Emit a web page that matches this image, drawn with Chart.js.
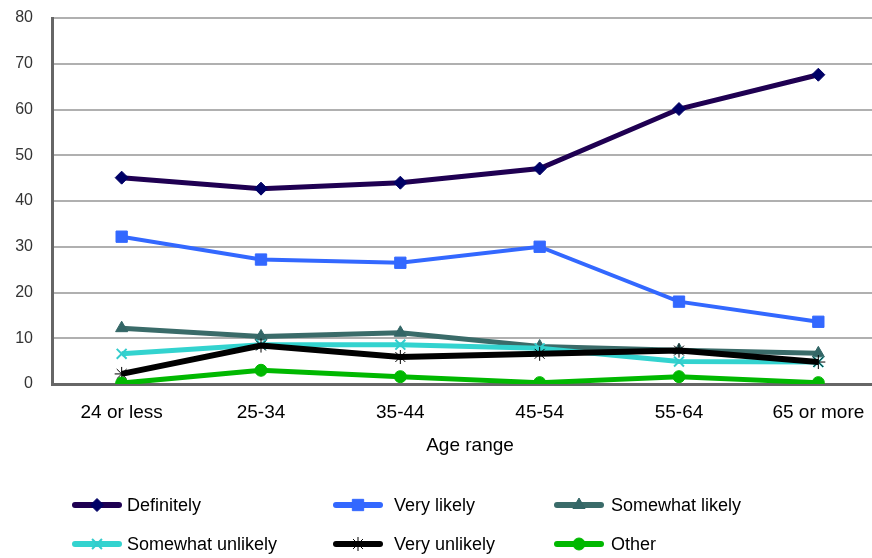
<!DOCTYPE html>
<html>
<head>
<meta charset="utf-8">
<script src="https://cdn.jsdelivr.net/npm/chart.js@4/dist/chart.umd.min.js"></script>
<style>
  html, body { margin: 0; padding: 0; background: #fff; overflow: hidden; }
  #wrap { width: 897px; height: 558px; }
</style>
</head>
<body>
<div id="wrap"><canvas id="c" width="897" height="558"></canvas></div>
<script>
// Survey responses by age range (percent)
const ageRanges = ['24 or less', '25-34', '35-44', '45-54', '55-64', '65 or more'];
const seriesNames = ['Definitely', 'Very likely', 'Somewhat likely', 'Somewhat unlikely', 'Very unlikely', 'Other'];
const definitely = [45.1, 42.7, 44.0, 47.1, 60.1, 67.6];
const veryLikely = [32.2, 27.2, 26.5, 30.0, 18.0, 13.6];
const somewhatLikely = [12.2, 10.4, 11.2, 8.2, 7.4, 6.7];
const somewhatUnlikely = [6.6, 8.6, 8.6, 7.8, 4.9, 4.8];
const veryUnlikely = [2.2, 8.4, 5.9, 6.6, 7.3, 4.8];
const other = [0.2, 3.0, 1.6, 0.3, 1.6, 0.3];
const yTicks = [0, 10, 20, 30, 40, 50, 60, 70, 80];

const FONT = '"Liberation Sans", Arial, Helvetica, sans-serif';

const styles = [
  { line: '#1f0052', point: '#000066', pointStyle: 'rectRot', radius: 6.5, width: 5, pbw: 1 },
  { line: '#3368ff', point: '#3368ff', pointStyle: 'rect', radius: 8, width: 4, pbw: 1 },
  { line: '#3a6b69', point: '#336666', pointStyle: 'triangle', radius: 7, width: 5, pbw: 1 },
  { line: '#33d3cf', point: '#33cccc', pointStyle: 'crossRot', radius: 7, width: 5, pbw: 2 },
  { line: '#000000', point: '#000000', pointStyle: 'star', radius: 7, width: 6, pbw: 1 },
  { line: '#00b800', point: '#00b800', pointStyle: 'circle', radius: 6, width: 5, pbw: 1 }
];
const values = [definitely, veryLikely, somewhatLikely, somewhatUnlikely, veryUnlikely, other];

const datasets = seriesNames.map((name, i) => ({
  label: name,
  data: values[i],
  borderColor: styles[i].line,
  backgroundColor: styles[i].point,
  pointBackgroundColor: styles[i].point,
  pointBorderColor: styles[i].point,
  pointStyle: styles[i].pointStyle,
  pointRadius: styles[i].radius,
  pointBorderWidth: styles[i].pbw,
  borderWidth: styles[i].width,
  tension: 0,
  order: seriesNames.length - i
}));

// Two-row, three-column legend drawn under the axis title
const gridLegend = {
  id: 'gridLegend',
  afterDraw(chart) {
    const ctx = chart.ctx;
    const colX = [73, 334, 555];
    const textX = [127, 394, 611];
    const rowY = [505, 544];
    ctx.save();
    chart.data.datasets.forEach((ds, i) => {
      const col = i % 3, row = Math.floor(i / 3);
      const x0 = colX[col], y = rowY[row];
      ctx.strokeStyle = ds.borderColor;
      ctx.lineWidth = 6;
      ctx.lineCap = 'round';
      ctx.beginPath();
      ctx.moveTo(x0 + 2, y);
      ctx.lineTo(x0 + 46, y);
      ctx.stroke();
      ctx.lineCap = 'butt';
      ctx.fillStyle = ds.pointBackgroundColor;
      ctx.strokeStyle = ds.pointBorderColor;
      ctx.lineWidth = ds.pointBorderWidth;
      Chart.helpers.drawPoint(ctx, {
        pointStyle: ds.pointStyle,
        radius: ds.pointRadius,
        borderWidth: ds.pointBorderWidth,
        rotation: 0
      }, x0 + 24, y);
      ctx.fillStyle = '#000';
      ctx.font = '18px ' + FONT;
      ctx.textBaseline = 'middle';
      ctx.textAlign = 'left';
      ctx.fillText(ds.label, textX[col], y + 1);
    });
    ctx.restore();
  }
};

new Chart(document.getElementById('c'), {
  type: 'line',
  data: { labels: ageRanges, datasets },
  options: {
    responsive: false,
    animation: false,
    layout: { padding: { left: 0, top: 18, right: 2, bottom: 101 } },
    plugins: { legend: { display: false }, tooltip: { enabled: false } },
    scales: {
      x: {
        offset: true,
        grid: { display: false, drawTicks: false },
        border: { display: true, color: '#666666', width: 3 },
        ticks: { color: '#000', padding: 17, font: { family: FONT, size: 19 } },
        title: { display: true, text: 'Age range', color: '#000', padding: 0, font: { family: FONT, size: 19 } },
        afterFit(scale) { scale.height = 73; }
      },
      y: {
        min: 0, max: 80,
        afterBuildTicks(scale) { scale.ticks = yTicks.map(v => ({ value: v })); },
        grid: { color: '#b0b0b0', lineWidth: 2, drawTicks: true, tickLength: 19, tickColor: 'rgba(0,0,0,0)' },
        border: { display: true, color: '#666666', width: 3 },
        ticks: { color: '#333', padding: 0, font: { family: FONT, size: 16 } },
        afterFit(scale) { scale.width = 52; }
      }
    }
  },
  plugins: [gridLegend]
});
</script>
</body>
</html>
